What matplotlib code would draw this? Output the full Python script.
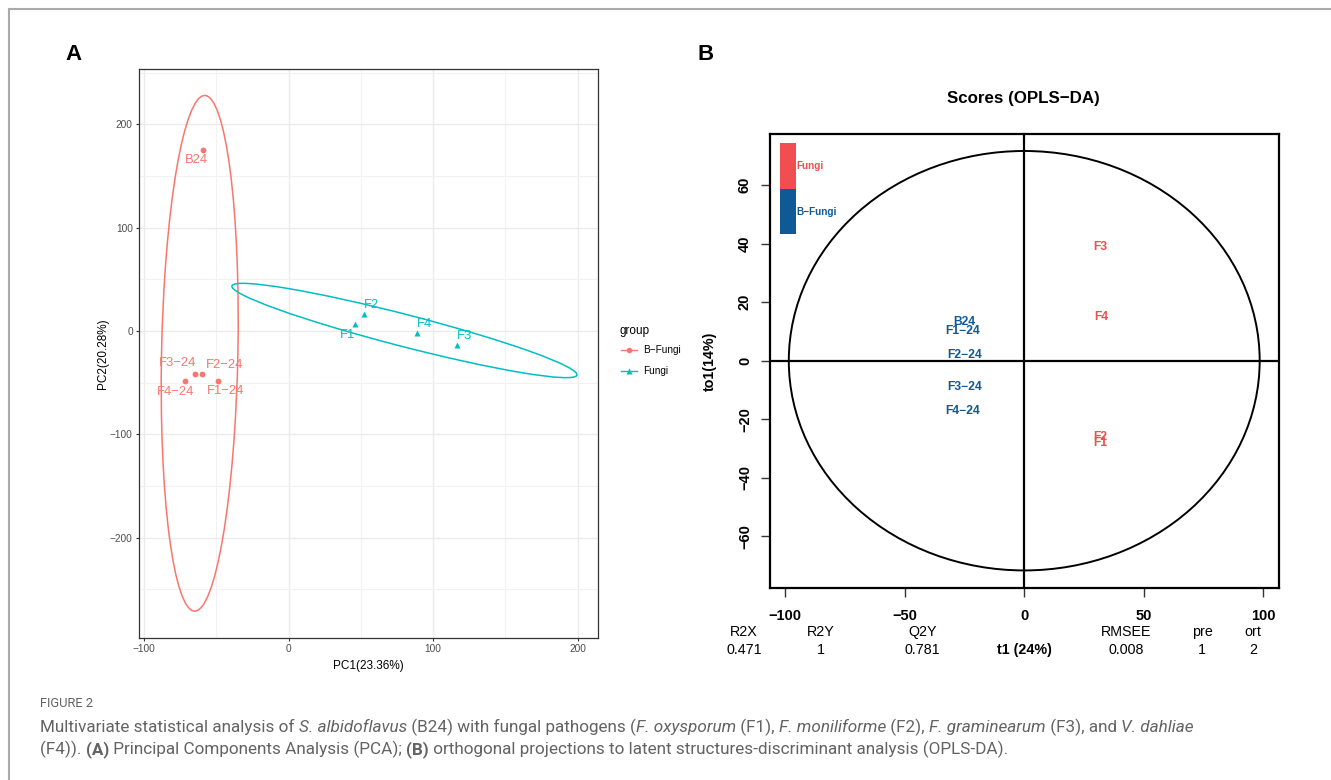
import matplotlib
matplotlib.use("Agg")
import matplotlib.pyplot as plt
from matplotlib.patches import Ellipse, Rectangle
from matplotlib.lines import Line2D
import numpy as np

# ---------------- data ----------------
# Panel A: PCA scores
pca_bf_labels = ["B24", "F1\u221224", "F2\u221224", "F3\u221224", "F4\u221224"]
pca_bf_pc1 = [-58.9, -49.0, -59.8, -65.0, -71.7]
pca_bf_pc2 = [175.0, -48.2, -41.4, -41.4, -48.2]
pca_f_labels = ["F1", "F2", "F3", "F4"]
pca_f_pc1 = [46.2, 52.2, 116.3, 88.7]
pca_f_pc2 = [6.4, 16.8, -13.2, -2.1]
# 95% ellipses: centre x, centre y, major length, minor length, angle (deg)
ell_bf = [-61.5, -21.5, 499.0, 52.8, 89.2]
ell_f = [80.1, 0.55, 253.8, 30.1, -20.0]
pca_xticks = [-100, 0, 100, 200]
pca_yticks = [-200, -100, 0, 100, 200]

# Panel B: OPLS-DA scores
opls_labels = ["B24", "F1\u221224", "F2\u221224", "F3\u221224", "F4\u221224",
               "F1", "F2", "F3", "F4"]
opls_t1 = [-25.0, -25.8, -25.0, -25.0, -25.8, 31.7, 31.7, 31.7, 32.2]
opls_to1 = [13.2, 10.0, 1.9, -8.9, -17.3, -28.2, -25.9, 38.7, 14.8]
opls_group = ["B-Fungi"] * 5 + ["Fungi"] * 4
opls_ellipse_r = [98.5, 71.6]
opls_xticks = [-100, -50, 0, 50, 100]
opls_yticks = [-60, -40, -20, 0, 20, 40, 60]
stat_names = ["R2X", "R2Y", "Q2Y", "RMSEE", "pre", "ort"]
stat_values = ["0.471", "1", "0.781", "0.008", "1", "2"]

# ---------------- style ----------------
W, H = 1331, 780
RED_A, CYAN_A = "#F8766D", "#00BFC4"
RED_B, BLUE_B = "#F04E50", "#0F5A96"
SANS = ["Liberation Sans", "DejaVu Sans"]
CAP = ["Roboto", "DejaVu Sans"]
CAP_COLOR = "#636363"

plt.rcParams["font.family"] = SANS
fig = plt.figure(figsize=(W / 100, H / 100), dpi=100)


def fx(x):
    return x / W


def fy(y):
    return 1 - y / H


def px2pt(v):
    return v * 0.72

# border of the figure card
fig.add_artist(Line2D([fx(9), 1], [fy(9), fy(9)], color="#aaaaaa", lw=1.5,
                      transform=fig.transFigure))
fig.add_artist(Line2D([fx(9), fx(9)], [fy(9), 0], color="#aaaaaa", lw=1.5,
                      transform=fig.transFigure))

# ---------------- Panel A ----------------
axA = fig.add_axes([fx(139), fy(638), fx(598) - fx(139), fy(69) - fy(638)])
axA.set_xlim(-103.5, 214.0)
axA.set_ylim(-297.0, 253.6)
axA.set_xticks(pca_xticks)
axA.set_yticks(pca_yticks)
axA.set_xticks([-50, 50, 150], minor=True)
axA.set_yticks([-250, -150, -50, 50, 150, 250], minor=True)
axA.grid(True, which="major", color="#EBEBEB", lw=1.0)
axA.grid(True, which="minor", color="#F2F2F2", lw=0.8)
axA.set_axisbelow(True)
for s in axA.spines.values():
    s.set_color("#333333")
    s.set_linewidth(0.9)
axA.tick_params(which="major", length=2.5, width=0.8, color="#333333",
                labelsize=7.3, labelcolor="#4D4D4D", pad=2)
axA.tick_params(which="minor", length=0)
axA.set_xlabel("PC1(23.36%)", fontsize=8.5, labelpad=4)
axA.set_ylabel("PC2(20.28%)", fontsize=8.5, labelpad=1)

for e, c in ((ell_bf, RED_A), (ell_f, CYAN_A)):
    axA.add_patch(Ellipse((e[0], e[1]), e[2], e[3], angle=e[4], fill=False,
                          edgecolor=c, lw=1.1))

axA.plot(pca_bf_pc1, pca_bf_pc2, "o", color=RED_A, ms=4.2, mec="none")
axA.plot(pca_f_pc1, pca_f_pc2, "^", color=CYAN_A, ms=4.5, mec="none")

# label offsets (pixels) for the PCA point labels
off_bf = [(-7, -9.6), (7.7, -10), (22.3, 8.9), (-17, 11), (-9, -10.7)]
off_f = [(-8.3, -10.4), (7.7, 8.9), (8, 8.5), (7.7, 8.9)]
for lab, x, y, o in zip(pca_bf_labels, pca_bf_pc1, pca_bf_pc2, off_bf):
    axA.annotate(lab, (x, y), xytext=(px2pt(o[0]), px2pt(o[1])),
                 textcoords="offset points", ha="center", va="center",
                 color=RED_A, fontsize=9.4)
for lab, x, y, o in zip(pca_f_labels, pca_f_pc1, pca_f_pc2, off_f):
    axA.annotate(lab, (x, y), xytext=(px2pt(o[0]), px2pt(o[1])),
                 textcoords="offset points", ha="center", va="center",
                 color=CYAN_A, fontsize=9.4)

# legend for panel A
fig.text(fx(619), fy(331), "group", fontsize=8.5, ha="left", va="center")
for yy, c, m, lab in ((350.5, RED_A, "o", "B\u2212Fungi"),
                      (370.5, CYAN_A, "^", "Fungi")):
    fig.add_artist(Line2D([fx(621), fx(637)], [fy(yy), fy(yy)], color=c,
                          lw=1.0, transform=fig.transFigure))
    fig.add_artist(Line2D([fx(629)], [fy(yy)], color=c, marker=m, ms=4,
                          mec="none", transform=fig.transFigure))
    fig.text(fx(643), fy(yy), lab, fontsize=7.2, ha="left", va="center")

fig.text(fx(73.5), fy(55), "A", fontsize=16, fontweight="bold",
         ha="center", va="center")

# ---------------- Panel B ----------------
axB = fig.add_axes([fx(770.4), fy(588), fx(1278.8) - fx(770.4), fy(134) - fy(588)])
axB.set_xlim(-106.2, 106.5)
axB.set_ylim(-77.6, 77.4)
for s in axB.spines.values():
    s.set_color("black")
    s.set_linewidth(1.6)
axB.set_xticks(opls_xticks)
axB.set_yticks(opls_yticks)
axB.tick_params(direction="out", length=6.3, width=1.0, labelsize=10.5,
                color="#333333")
axB.tick_params(axis="x", pad=9)
axB.tick_params(axis="y", pad=7)
for lab in axB.get_xticklabels() + axB.get_yticklabels():
    lab.set_fontweight("bold")
for lab in axB.get_yticklabels():
    lab.set_rotation(90)
    lab.set_va("center")
axB.axhline(0, color="black", lw=1.6)
axB.axvline(0, color="black", lw=1.6)
axB.add_patch(Ellipse((0, 0), 2 * opls_ellipse_r[0], 2 * opls_ellipse_r[1],
                      fill=False, edgecolor="black", lw=1.4))
for lab, x, y, g in zip(opls_labels, opls_t1, opls_to1, opls_group):
    axB.text(x, y, lab, color=RED_B if g == "Fungi" else BLUE_B,
             fontsize=8.7, fontweight="bold", ha="center", va="center")

# colour legend bars
axB.add_patch(Rectangle((-102.1, 58.6), 6.5, 15.6, color=RED_B, lw=0))
axB.add_patch(Rectangle((-102.1, 43.2), 6.5, 15.4, color=BLUE_B, lw=0))
axB.text(-95.5, 66.4, "Fungi", color=RED_B, fontsize=7.2, fontweight="bold",
         ha="left", va="center")
axB.text(-95.5, 50.9, "B\u2212Fungi", color=BLUE_B, fontsize=7.2,
         fontweight="bold", ha="left", va="center")

fig.text(fx(1023), fy(98), "Scores (OPLS\u2212DA)", fontsize=12.2,
         fontweight="bold", ha="center", va="center")
fig.text(fx(710), fy(361), "to1(14%)", fontsize=10.3, fontweight="bold",
         rotation=90, ha="center", va="center")
fig.text(fx(1024.2), fy(650), "t1 (24%)", fontsize=10.3, fontweight="bold",
         ha="center", va="center")
stat_x = [744.2, 821.0, 922.3, 1126.0, 1202.0, 1253.0]
for xx, nm, v in zip(stat_x, stat_names, stat_values):
    fig.text(fx(xx), fy(632), nm, fontsize=10.3, ha="center", va="center")
    fig.text(fx(xx), fy(650), v, fontsize=10.3, ha="center", va="center")

fig.text(fx(706), fy(55), "B", fontsize=16, fontweight="bold",
         ha="center", va="center")

# ---------------- caption ----------------
renderer = fig.canvas.get_renderer()

line1 = [("Multivariate statistical analysis of ", "normal", "normal"),
         ("S. albidoflavus", "italic", "normal"),
         (" (B24) with fungal pathogens (", "normal", "normal"),
         ("F. oxysporum", "italic", "normal"),
         (" (F1), ", "normal", "normal"),
         ("F. moniliforme", "italic", "normal"),
         (" (F2), ", "normal", "normal"),
         ("F. graminearum", "italic", "normal"),
         (" (F3), and ", "normal", "normal"),
         ("V. dahliae", "italic", "normal")]
line2 = [("(F4)). ", "normal", "normal"),
         ("(A)", "normal", "bold"),
         (" Principal Components Analysis (PCA); ", "normal", "normal"),
         ("(B)", "normal", "bold"),
         (" orthogonal projections to latent structures-discriminant analysis (OPLS-DA).",
          "normal", "normal")]


def draw_line(segs, x0, ybase, size, draw=True):
    x = x0
    arts = []
    for txt, st, wt in segs:
        t = fig.text(fx(x), fy(ybase), txt, fontsize=size, style=st,
                     fontweight=wt, family=CAP, color=CAP_COLOR,
                     ha="left", va="baseline")
        bb = t.get_window_extent(renderer=renderer)
        x += bb.width
        arts.append(t)
    if not draw:
        for a in arts:
            a.remove()
    return x - x0

base = 11.0
w = draw_line(line1, 40, 732, base, draw=False)
cap_size = min(base * 1250.0 / w, 12.3)
draw_line(line1, 40, 732, cap_size)
draw_line(line2, 40, 754, cap_size)
fig.text(fx(40), fy(707), "FIGURE 2", fontsize=9.3,
         family=CAP, color=CAP_COLOR, ha="left", va="baseline")

fig.savefig("out.png", dpi=100)
